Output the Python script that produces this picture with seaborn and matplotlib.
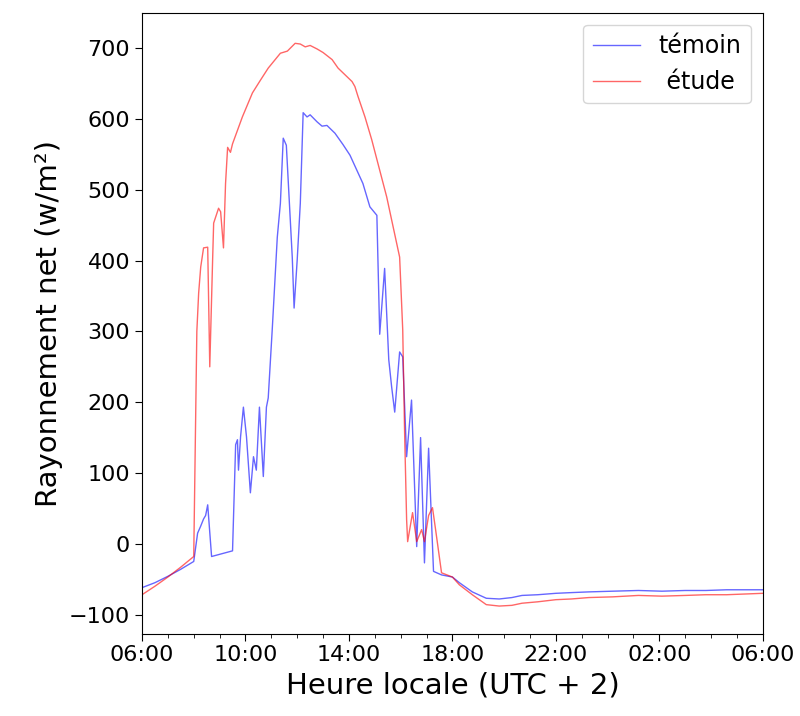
import numpy as np
import pandas as pd
import matplotlib
matplotlib.use("Agg")
import matplotlib.pyplot as plt
import matplotlib.dates as mdates
import seaborn as sns

# Hours since 00:00 of the first day (6 -> 06:00, 30 -> 06:00 next day)
hours_temoin = [6.00, 6.50, 7.00, 7.50, 8.00, 8.15, 8.27, 8.38, 8.46, 8.54, 8.69, 9.50,
                9.62, 9.69, 9.73, 9.81, 9.92, 10.04, 10.19, 10.31, 10.42, 10.54,
                10.69, 10.81, 10.88, 11.04, 11.23, 11.35, 11.46, 11.58, 11.81, 11.88,
                12.00, 12.12, 12.23, 12.38, 12.50, 12.77, 12.96, 13.15, 13.46, 13.77, 14.04,
                14.54, 14.81, 15.08, 15.19, 15.38, 15.54, 15.65, 15.77, 15.96, 16.08,
                16.23, 16.42, 16.62, 16.77, 16.92, 17.08, 17.27, 17.58, 18.00, 18.27,
                18.77, 19.31, 19.81, 20.30, 20.69, 21.30, 22.00, 22.60, 23.27, 24.20,
                25.19, 26.10, 27.00, 27.80, 28.60, 29.30, 30.00]
values_temoin = [-62, -55, -46, -36, -25, 15, 25, 35, 40, 55, -18, -10,
                 140, 147, 104, 151, 193, 151, 72, 123, 104, 193,
                 95, 193, 206, 306, 433, 481, 573, 563, 404, 333,
                 401, 481, 609, 603, 606, 596, 590, 591, 580, 564, 549,
                 509, 476, 464, 296, 389, 260, 222, 186, 271, 264,
                 123, 203, -4, 150, -27, 135, -39, -44, -47, -55,
                 -68, -77, -78, -76, -73, -72, -70, -69, -68, -67,
                 -66, -67, -66, -66, -65, -65, -65]

hours_etude = [6.00, 6.50, 7.00, 7.50, 8.00, 8.12, 8.19, 8.27, 8.38, 8.54, 8.62, 8.73,
               8.77, 8.96, 9.04, 9.15, 9.23, 9.31, 9.42, 9.50, 9.88, 10.27, 10.58, 10.88,
               11.35, 11.62, 11.92, 12.12, 12.31, 12.50, 12.77, 13.00, 13.35, 13.58,
               14.12, 14.23, 14.35, 14.62, 14.88, 15.46, 15.96, 16.08, 16.15, 16.23,
               16.27, 16.46, 16.62, 16.81, 16.92, 17.08, 17.23, 17.35, 17.58, 18.00,
               18.27, 18.77, 19.31, 19.81, 20.30, 20.69, 21.30, 22.00, 22.60, 23.27,
               24.20, 25.19, 26.10, 27.00, 27.80, 28.60, 29.30, 30.00]
values_etude = [-72, -60, -47, -33, -18, 300, 354, 391, 418, 419, 250, 401,
                453, 474, 469, 418, 509, 560, 553, 565, 603, 637, 655, 672,
                693, 696, 707, 706, 702, 704, 699, 694, 684, 672,
                653, 646, 632, 603, 571, 490, 405, 302, 161, 34,
                3, 44, 3, 20, 3, 40, 51, 20, -41, -47,
                -58, -72, -86, -88, -87, -84, -82, -79, -78, -76,
                -75, -73, -74, -73, -72, -72, -71, -70]

labels = ["témoin", " étude"]
colors = ["blue", "red"]

base = pd.Timestamp("2021-06-01 00:00")
def to_time(h):
    return [base + pd.Timedelta(hours=v) for v in h]

df = pd.concat([
    pd.DataFrame({"time": to_time(hours_temoin), "value": values_temoin, "serie": labels[0]}),
    pd.DataFrame({"time": to_time(hours_etude), "value": values_etude, "serie": labels[1]}),
])

fig = plt.figure(figsize=(8.0, 7.16), dpi=100)
ax = fig.add_axes([0.1775, 0.115, 0.776, 0.867])

sns.lineplot(data=df, x="time", y="value", hue="serie", palette=colors,
             hue_order=labels, ax=ax, linewidth=1.0, alpha=0.6,
             estimator=None, sort=False)

ax.set_xlim(base + pd.Timedelta(hours=6), base + pd.Timedelta(hours=30))
ax.set_ylim(-127, 750)
ax.xaxis.set_major_locator(mdates.HourLocator(byhour=[2, 6, 10, 14, 18, 22]))
ax.xaxis.set_minor_locator(mdates.HourLocator())
ax.xaxis.set_major_formatter(mdates.DateFormatter("%H:%M"))
ax.set_yticks([-100, 0, 100, 200, 300, 400, 500, 600, 700])
ax.tick_params(axis="both", which="major", labelsize=16, length=5)
ax.tick_params(axis="x", which="minor", length=3)
ax.set_xlabel("Heure locale (UTC + 2)", fontsize=21)
ax.set_ylabel("Rayonnement net (w/m²)", fontsize=21)
for s in ax.spines.values():
    s.set_visible(True)
    s.set_color("black")

leg = ax.legend(loc="upper right", fontsize=17, frameon=True)
for line in leg.get_lines():
    line.set_linewidth(1.0)
    line.set_alpha(0.6)

fig.savefig("out.png", dpi=100)
